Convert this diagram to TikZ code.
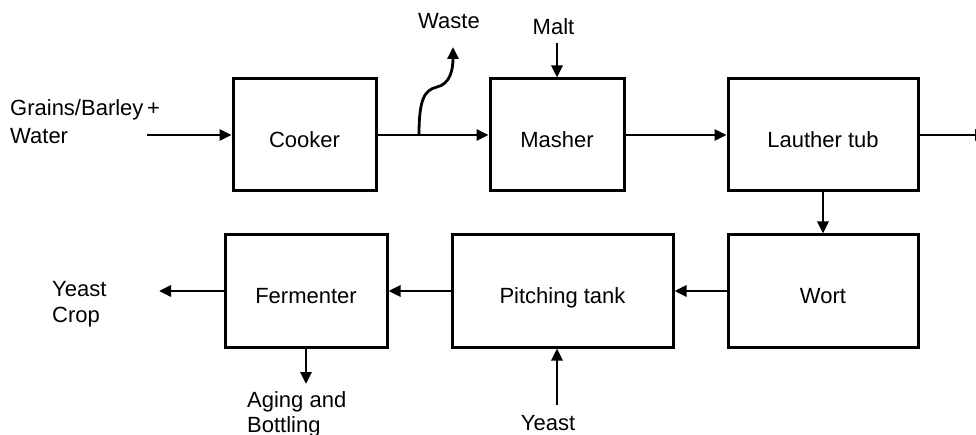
\documentclass[tikz,border=0pt]{standalone}
\usepackage{fontspec}
\setmainfont{Liberation Sans}
\usetikzlibrary{arrows.meta}
\begin{document}
\begin{tikzpicture}[x=1pt,y=-1pt,
  box/.style={draw=black, line width=3pt, rectangle, inner sep=0pt,
    font=\fontsize{22}{26}\selectfont, text height=25pt, text depth=0pt},
  arr/.style={line width=2.8pt, -{Triangle[length=12pt,width=11pt]}},
  lbl/.style={inner sep=0pt, font=\fontsize{22}{27}\selectfont, align=left}]
\useasboundingbox (0,0) rectangle (976,435);
% process boxes
\node[box, minimum width=143pt, minimum height=112pt] (cooker) at (304.5,135) {Cooker};
\node[box, minimum width=134pt, minimum height=112pt] (masher) at (557,135) {Masher};
\node[box, minimum width=190pt, minimum height=112pt] (lauther) at (823,135) {Lauther tub};
\node[box, minimum width=190pt, minimum height=112pt] (wort) at (823,291) {Wort};
\node[box, minimum width=221pt, minimum height=112pt] (pitch) at (562.5,291) {Pitching tank};
\node[box, minimum width=162pt, minimum height=112pt] (ferm) at (306,291) {Fermenter};
% labels
\node[lbl, anchor=north west, font=\fontsize{22}{28}\selectfont] (grains) at (10,99) {Grains/Barley\,+\\Water};
\node[lbl] (waste) at (449,21.5) {Waste};
\node[lbl] (malt) at (553.5,26.5) {Malt};
\node[lbl, anchor=north west, font=\fontsize{22}{26}\selectfont] (crop) at (52,281) {Yeast\\Crop};
\node[lbl, anchor=north west, font=\fontsize{22}{25}\selectfont] (aging) at (247,391) {Aging and\\Bottling};
\node[lbl, anchor=base] (yeast) at (548,430) {Yeast};
% free ends
\coordinate (inp) at (147,135);
\coordinate (outp) at (987,135);
\coordinate (w0) at (419,135);
\coordinate (wend) at (453,47);
\coordinate (maltin) at (557,43);
\coordinate (cropout) at (159,291);
\coordinate (agingout) at (306,384);
\coordinate (yeastin) at (557,405);
% connectors
\draw[arr] (inp) -- (cooker.west);
\draw[arr] (cooker.east) -- (masher.west);
\draw[arr]
  (w0) .. controls (419,100) and (424,90) .. (437,87)
       .. controls (450,84) and (453,70) .. (wend);
\draw[arr] (maltin) -- (masher.north);
\draw[arr] (masher.east) -- (lauther.west);
\draw[arr] (lauther.east) -- (outp);
\draw[arr] (lauther.south) -- (wort.north);
\draw[arr] (wort.west) -- (pitch.east);
\draw[arr] (pitch.west) -- (ferm.east);
\draw[arr] (ferm.west) -- (cropout);
\draw[arr] (ferm.south) -- (agingout);
\draw[arr] (yeastin) -- (yeastin |- pitch.south);
\end{tikzpicture}
\end{document}
